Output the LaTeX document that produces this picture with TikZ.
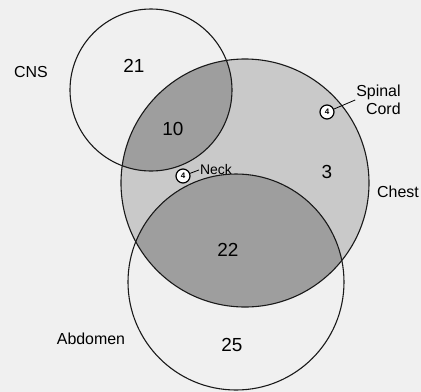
\documentclass[tikz,border=0pt]{standalone}
\usepackage{fontspec}
\setmainfont{Liberation Sans}
\usepackage{xcolor}

\definecolor{paper}{gray}{0.94}
\definecolor{chestgray}{gray}{0.79}
\definecolor{overlap}{gray}{0.62}

\tikzset{
  ring/.style={draw=black!90,line width=1.1pt},
  tag/.style={inner sep=1pt,font=\fontsize{16}{18}\selectfont},
  count/.style={inner sep=1pt,font=\fontsize{19}{21}\selectfont},
  site/.style={circle,draw,line width=1.2pt,fill=white,inner sep=0pt,
    minimum size=14bp,font=\fontsize{8}{9}\selectfont\bfseries},
  leader/.style={line width=0.8pt}
}

\begin{document}
\begin{tikzpicture}[x=1bp,y=-1bp]
  \useasboundingbox (0,0) rectangle (421,392);
  \fill[paper] (0,0) rectangle (421,392);
  \coordinate (cns) at (151,90);
  \coordinate (chest) at (245,183);
  \coordinate (abd) at (236,282);
  % shaded regions
  \fill[chestgray] (chest) circle (124);
  \begin{scope}
    \clip (chest) circle (124);
    \fill[overlap] (cns) circle (81);
    \fill[overlap] (abd) circle (108);
  \end{scope}
  \draw[ring] (cns) circle (81);
  \draw[ring] (chest) circle (124);
  \draw[ring] (abd) circle (108);
  % labels and counts
  \node[tag] (cnslbl) at (31,72) {CNS};
  \node[tag] (chestlbl) at (398,192) {Chest};
  \node[tag] (abdlbl) at (91,339) {Abdomen};
  \node[tag,align=right] (spinal) at (378.5,100) {Spinal\\Cord};
  \node[inner sep=1pt,font=\fontsize{14}{16}\selectfont] (necklbl) at (216,170) {Neck};
  \node[count] (n21) at (134,66) {21};
  \node[count] (n10) at (173,129) {10};
  \node[count] (n3) at (327,172) {3};
  \node[count] (n22) at (228,250) {22};
  \node[count] (n25) at (232,345) {25};
  \node[site] (sc) at (327,112) {4};
  \node[site] (nk) at (183,176) {4};
  \draw[leader] (sc) -- (spinal.west);
  \draw[leader] (nk) -- (necklbl.west);
\end{tikzpicture}
\end{document}
